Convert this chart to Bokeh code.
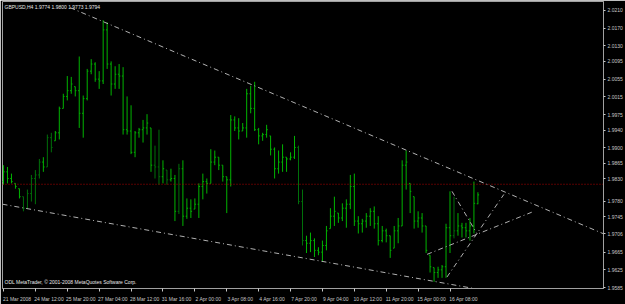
from bokeh.plotting import figure
from bokeh.models import Range1d, FixedTicker, Label, PrintfTickFormatter
from bokeh.embed import file_html
from bokeh.resources import INLINE

# ---------------- data ----------------
chart_title = "GBPUSD,H4  1.9774 1.9800 1.9773 1.9794"
copyright_text = "ODL MetaTrader, \u00a9 2001-2008 MetaQuotes Software Corp."

opens = [1.9824, 1.9846, 1.9831, 1.9820, 1.9808, 1.9790, 1.9764, 1.9797, 1.9831, 1.9839,
         1.9868, 1.9857, 1.9923, 1.9916, 1.9934, 1.9989, 2.0016, 2.0029, 2.0038, 2.0029,
         1.9978, 2.0011, 2.0073, 2.0089, 2.0055, 2.0051, 2.0166, 2.0089, 2.0044, 2.0066,
         2.0062, 1.9941, 1.9938, 1.9890, 1.9934, 1.9941, 1.9945, 1.9945, 1.9861, 1.9857,
         1.9835, 1.9850, 1.9828, 1.9831, 1.9757, 1.9853, 1.9746, 1.9764, 1.9762, 1.9773,
         1.9813, 1.9824, 1.9820, 1.9868, 1.9879, 1.9861, 1.9835, 1.9828, 1.9963, 1.9945,
         1.9938, 1.9945, 2.0022, 1.9989, 1.9941, 1.9927, 1.9930, 1.9927, 1.9897, 1.9853,
         1.9868, 1.9879, 1.9875, 1.9879, 1.9901, 1.9779, 1.9691, 1.9685, 1.9691, 1.9669,
         1.9665, 1.9680, 1.9718, 1.9746, 1.9753, 1.9742, 1.9764, 1.9773, 1.9813, 1.9735,
         1.9729, 1.9735, 1.9746, 1.9757, 1.9729, 1.9691, 1.9713, 1.9702, 1.9674, 1.9713,
         1.9724, 1.9861, 1.9820, 1.9790, 1.9735, 1.9742, 1.9724, 1.9658, 1.9630, 1.9619,
         1.9625, 1.9632, 1.9720, 1.9702, 1.9713, 1.9724, 1.9720, 1.9713, 1.9724, 1.9774]
highs = [1.9861, 1.9857, 1.9842, 1.9820, 1.9808, 1.9790, 1.9806, 1.9839, 1.9850, 1.9875,
         1.9879, 1.9930, 1.9934, 1.9938, 1.9993, 2.0022, 2.0062, 2.0060, 2.0038, 2.0106,
         2.0018, 2.0078, 2.0100, 2.0093, 2.0073, 2.0188, 2.0183, 2.0095, 2.0084, 2.0089,
         2.0082, 2.0016, 1.9996, 1.9938, 1.9945, 1.9963, 1.9976, 1.9945, 1.9905, 1.9941,
         1.9872, 1.9850, 1.9853, 1.9839, 1.9864, 1.9872, 1.9786, 1.9784, 1.9786, 1.9820,
         1.9842, 1.9831, 1.9897, 1.9894, 1.9879, 1.9861, 1.9835, 1.9974, 1.9971, 1.9967,
         1.9956, 2.0033, 2.0040, 2.0049, 1.9945, 1.9934, 1.9952, 1.9927, 1.9901, 1.9894,
         1.9908, 1.9879, 1.9890, 1.9927, 1.9905, 1.9806, 1.9702, 1.9709, 1.9696, 1.9676,
         1.9691, 1.9724, 1.9764, 1.9790, 1.9753, 1.9775, 1.9784, 1.9839, 1.9842, 1.9746,
         1.9740, 1.9753, 1.9764, 1.9768, 1.9746, 1.9724, 1.9718, 1.9702, 1.9724, 1.9742,
         1.9872, 1.9894, 1.9820, 1.9790, 1.9757, 1.9753, 1.9724, 1.9658, 1.9630, 1.9632,
         1.9636, 1.9729, 1.9802, 1.9790, 1.9753, 1.9731, 1.9731, 1.9742, 1.9824, 1.9800]
lows = [1.9817, 1.9820, 1.9820, 1.9808, 1.9786, 1.9757, 1.9762, 1.9779, 1.9773, 1.9831,
        1.9846, 1.9857, 1.9890, 1.9916, 1.9919, 1.9989, 2.0007, 2.0022, 2.0016, 1.9945,
        1.9923, 2.0007, 2.0066, 2.0049, 2.0033, 2.0044, 2.0078, 2.0018, 2.0033, 2.0033,
        1.9930, 1.9930, 1.9886, 1.9879, 1.9923, 1.9912, 1.9930, 1.9846, 1.9831, 1.9817,
        1.9820, 1.9817, 1.9824, 1.9735, 1.9751, 1.9724, 1.9740, 1.9742, 1.9762, 1.9742,
        1.9784, 1.9797, 1.9820, 1.9861, 1.9850, 1.9824, 1.9753, 1.9813, 1.9938, 1.9919,
        1.9938, 1.9923, 1.9978, 1.9938, 1.9908, 1.9916, 1.9923, 1.9883, 1.9831, 1.9842,
        1.9846, 1.9846, 1.9872, 1.9875, 1.9773, 1.9680, 1.9663, 1.9665, 1.9654, 1.9658,
        1.9643, 1.9669, 1.9718, 1.9724, 1.9731, 1.9735, 1.9720, 1.9762, 1.9724, 1.9707,
        1.9709, 1.9720, 1.9724, 1.9718, 1.9680, 1.9687, 1.9687, 1.9652, 1.9674, 1.9685,
        1.9724, 1.9806, 1.9753, 1.9718, 1.9720, 1.9709, 1.9663, 1.9619, 1.9598, 1.9607,
        1.9607, 1.9607, 1.9663, 1.9696, 1.9702, 1.9698, 1.9698, 1.9691, 1.9707, 1.9773]
closes = [1.9846, 1.9831, 1.9824, 1.9813, 1.9790, 1.9764, 1.9797, 1.9831, 1.9839, 1.9868,
          1.9857, 1.9923, 1.9901, 1.9934, 1.9989, 2.0016, 2.0029, 2.0044, 2.0029, 1.9978,
          2.0011, 2.0073, 2.0089, 2.0055, 2.0051, 2.0166, 2.0089, 2.0044, 2.0066, 2.0062,
          1.9941, 1.9938, 1.9890, 1.9934, 1.9941, 1.9945, 1.9956, 1.9861, 1.9857, 1.9835,
          1.9853, 1.9828, 1.9831, 1.9757, 1.9853, 1.9746, 1.9764, 1.9757, 1.9773, 1.9813,
          1.9824, 1.9820, 1.9868, 1.9879, 1.9861, 1.9835, 1.9828, 1.9963, 1.9945, 1.9938,
          1.9945, 2.0022, 1.9989, 1.9941, 1.9927, 1.9930, 1.9941, 1.9897, 1.9853, 1.9868,
          1.9879, 1.9875, 1.9879, 1.9901, 1.9779, 1.9691, 1.9685, 1.9691, 1.9669, 1.9665,
          1.9680, 1.9713, 1.9746, 1.9757, 1.9742, 1.9764, 1.9773, 1.9813, 1.9735, 1.9729,
          1.9735, 1.9746, 1.9757, 1.9729, 1.9691, 1.9713, 1.9702, 1.9669, 1.9713, 1.9724,
          1.9861, 1.9868, 1.9802, 1.9735, 1.9742, 1.9724, 1.9669, 1.9632, 1.9619, 1.9625,
          1.9632, 1.9720, 1.9702, 1.9713, 1.9724, 1.9720, 1.9713, 1.9724, 1.9775, 1.9794]
dark_bars = [5, 6, 7, 8, 9, 11, 12, 38, 39, 41, 44, 74, 75, 113]

time_tick_index = [0, 8, 16, 24, 32, 40, 48, 56, 64, 72, 80, 88, 96, 104, 112]
time_tick_labels = ["21 Mar 2008", "24 Mar 12:00", "25 Mar 20:00", "27 Mar 04:00",
                    "28 Mar 12:00", "31 Mar 16:00", "2 Apr 00:00", "3 Apr 08:00",
                    "4 Apr 16:00", "7 Apr 20:00", "9 Apr 04:00", "10 Apr 12:00",
                    "11 Apr 20:00", "15 Apr 00:00", "16 Apr 08:00"]
price_ticks = [2.0210, 2.0170, 2.0130, 2.0095, 2.0055, 2.0015, 1.9975, 1.9940, 1.9900,
               1.9865, 1.9830, 1.9780, 1.9745, 1.9706, 1.9665, 1.9625, 1.9585]

ask_line_price = 1.9818
bid_price = 1.9794

# trend lines: (bar index pairs, price pairs)
upper_trend_x = [16.75, 101.25]
upper_trend_y = [2.0216, 1.9894]
lower_trend_x = [-0.25, 119.25]
lower_trend_y = [1.9773, 1.9581]
tri_a_x = [106.25, 132.5]
tri_a_y = [1.9660, 1.9755]
tri_b_x = [111.25, 125.5]
tri_b_y = [1.9609, 1.9795]
tri_c_x = [112.5, 118.75]
tri_c_y = [1.9802, 1.9707]

# ---------------- figure ----------------
X_MIN, X_MAX = -0.25, 150.5
Y_MIN, Y_MAX = 1.9583, 2.0230
FONT = "Liberation Sans"
FS = "5px"
FG = "#c8c8c8"

p = figure(width=625, height=304, output_backend="svg", toolbar_location=None,
           x_range=Range1d(X_MIN, X_MAX), y_range=Range1d(Y_MIN, Y_MAX),
           x_axis_location="below", y_axis_location="right",
           min_border_left=2, min_border_top=1, min_border_right=0, min_border_bottom=0)
p.background_fill_color = "#000000"
p.border_fill_color = "#000000"
p.outline_line_color = "#a0a0a0"
p.grid.visible = False

n = len(highs)
idx = list(range(n))
bright, dark = "#00b400", "#00700a"
colors = [dark if i in dark_bars else bright for i in idx]

# OHLC bars
p.segment(x0=idx, y0=lows, x1=idx, y1=highs, line_color=colors, line_width=1)
p.segment(x0=[i - 0.3 for i in idx], y0=opens, x1=idx, y1=opens, line_color=colors, line_width=1)
p.segment(x0=idx, y0=closes, x1=[i + 0.3 for i in idx], y1=closes, line_color=colors, line_width=1)

# ask line (red dotted)
p.line(x=[X_MIN, X_MAX], y=[ask_line_price, ask_line_price], line_color="#b00000",
       line_dash="1 2", line_width=1)

# trend lines
tl = dict(line_color="#b0b0b0", line_dash="5 3 1 3", line_width=1)
slope = (upper_trend_y[1] - upper_trend_y[0]) / (upper_trend_x[1] - upper_trend_x[0])
p.line(x=[upper_trend_x[0], X_MAX],
       y=[upper_trend_y[0], upper_trend_y[0] + slope * (X_MAX - upper_trend_x[0])], **tl)
p.line(x=lower_trend_x, y=lower_trend_y, **tl)
p.line(x=tri_a_x, y=tri_a_y, **tl)
p.line(x=tri_b_x, y=tri_b_y, **tl)
p.line(x=tri_c_x, y=tri_c_y, **tl)

# axes
xa = p.xaxis[0]
xa.ticker = FixedTicker(ticks=[i + 3.4 for i in time_tick_index], minor_ticks=time_tick_index)
xa.major_label_overrides = {i + 3.4: lab for i, lab in zip(time_tick_index, time_tick_labels)}
xa.major_tick_line_color = None
xa.minor_tick_line_color = FG
xa.minor_tick_in = 0
xa.minor_tick_out = 3
xa.axis_line_color = "#a0a0a0"
xa.major_label_text_color = FG
xa.major_label_text_font = FONT
xa.major_label_text_font_size = FS
xa.major_label_standoff = 1

ya = p.yaxis[0]
ya.ticker = FixedTicker(ticks=price_ticks)
ya.formatter = PrintfTickFormatter(format="%.4f")
ya.minor_tick_line_color = None
ya.major_tick_line_color = FG
ya.major_tick_in = 0
ya.major_tick_out = 2
ya.axis_line_color = "#a0a0a0"
ya.major_label_text_color = FG
ya.major_label_text_font = FONT
ya.major_label_text_font_size = FS
ya.major_label_standoff = 2

# texts
p.add_layout(Label(x=X_MIN, y=Y_MAX, x_offset=2, y_offset=-2, text=chart_title,
                   text_color="#e8e8e8", text_font=FONT, text_font_size=FS,
                   text_baseline="top"))
p.add_layout(Label(x=X_MIN, y=Y_MIN, x_offset=2, y_offset=4, text=copyright_text,
                   text_color="#e8e8e8", text_font=FONT, text_font_size=FS,
                   text_baseline="bottom"))

# price boxes on the axis
p.add_layout(Label(x=X_MAX, y=ask_line_price, x_offset=1, text=f"{ask_line_price:.4f}  ",
                   text_color="#ffffff", background_fill_color="#e00000",
                   text_font=FONT, text_font_size=FS, text_baseline="middle",
                   padding=1))
p.add_layout(Label(x=X_MAX, y=bid_price, x_offset=1, y_offset=-2, text=f"{bid_price:.4f}  ",
                   text_color="#000000", background_fill_color="#ffffff",
                   text_font=FONT, text_font_size=FS, text_baseline="middle",
                   padding=1))

open("out.html", "w").write(file_html(p, INLINE))
